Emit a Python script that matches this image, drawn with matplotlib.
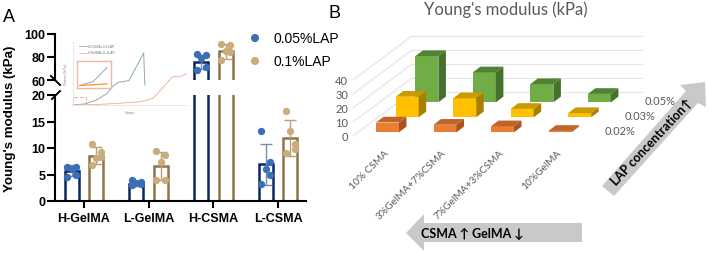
import numpy as np
import matplotlib
matplotlib.use('Agg')
import matplotlib.pyplot as plt
from matplotlib.patches import Polygon, Rectangle

W, H = 709, 255

groups = ['H-GelMA', 'L-GelMA', 'H-CSMA', 'L-CSMA']
mean_low = [5.7, 3.3, 76, 6.9]
mean_high = [8.5, 6.6, 85, 11.9]
err_low = [1.0, 0.4, 6.0, 3.9]
err_high = [1.6, 2.7, 6.5, 3.4]
pts_low = [[6.5, 6.5, 6.0, 5.0, 4.5], [4.0, 3.5, 3.4, 3.3, 3.0],
           [82.6, 81.8, 79, 71.6, 69], [13.2, 7.3, 6.0, 5.0, 3.2]]
pts_high = [[10.7, 9.2, 8.2, 8.3, 6.8], [9.5, 8.6, 7.4, 4.0, 4.0],
            [91, 90, 85, 84, 77], [17.0, 10.8, 13.2, 9.8, 9.0]]
jitter = [-0.07, 0.07, 0.0, 0.07, -0.07]

strain_csma = [0, 0.1, 0.2, 0.3, 0.35, 0.4, 0.49, 0.62, 0.63]
stress_csma = [0, 5, 22, 55, 90, 108, 116, 248, 95]
strain_gel = [0, 0.2, 0.4, 0.5, 0.6, 0.7, 0.75, 0.877, 0.936, 1.0]
stress_gel = [0, 2, 8, 12, 16, 32, 60, 136, 135, 150]

mixes = ['10% CSMA', '3%GelMA+7%CSMA', '7%GelMA+3%CSMA', '10%GelMA']
lap = ['0.02%', '0.03%', '0.05%']
modulus = [[7.0, 5.4, 4.3, 1.0],
           [14.7, 13.6, 6.0, 3.0],
           [33.0, 21.4, 13.0, 6.0]]
ticks_3d = [0, 10, 20, 30, 40]

BLUE, NAVY = '#3a6fb8', '#0c2461'
TAN, BROWN = '#c9ad7c', '#8f7447'
GRAY = '#595959'
ARROW = '#c9c9c9'
face = ['#ed7d31', '#ffc000', '#70ad47']
top = ['#c0652a', '#cc9a00', '#4f8233']
side = ['#a85520', '#a88000', '#44712b']


def px_axes(x0, y0, x1, y1, **kw):
    return fig.add_axes([x0 / W, 1 - y1 / H, (x1 - x0) / W, (y1 - y0) / H], **kw)


plt.rcParams['font.family'] = ['Liberation Sans', 'DejaVu Sans']
fig = plt.figure(figsize=(W / 100, H / 100), dpi=100)

# panel A, broken axis
ax_up = px_axes(55, 35, 306, 81)
ax_lo = px_axes(55, 96, 306, 202)

for ax in (ax_up, ax_lo):
    for i in range(4):
        for off, m, e, pts, col, dot in ((-0.19, mean_low[i], err_low[i], pts_low[i], NAVY, BLUE),
                                         (0.19, mean_high[i], err_high[i], pts_high[i], BROWN, TAN)):
            ax.bar(i + off, m, 0.215, color='white', edgecolor=col, linewidth=1.8)
            ecol = '#7d8ca8' if col == NAVY else '#b89f74'
            ax.errorbar(i + off, m, yerr=e, color=ecol, capsize=4, lw=1, capthick=1)
            ax.scatter(i + off + np.array(jitter), pts, s=28, color=dot, zorder=3, linewidths=0)
    ax.set_xlim(-0.448, 3.433)
    for s in ('top', 'right'):
        ax.spines[s].set_visible(False)
    ax.spines['left'].set_linewidth(1.5)
    ax.tick_params(axis='y', width=1.5, length=6, pad=1, labelsize=9)

ax_up.set_ylim(60, 100)
ax_up.set_yticks([60, 80, 100])
ax_up.set_yticklabels(['60', '80', '100'], fontweight='bold')
ax_up.spines['bottom'].set_visible(False)
ax_up.set_xticks([])

ax_lo.set_ylim(0, 20)
ax_lo.set_yticks([0, 5, 10, 15, 20])
ax_lo.set_yticklabels(['0', '5', '10', '15', '20'], fontweight='bold')
ax_lo.spines['bottom'].set_linewidth(1.5)
ax_lo.set_xticks(range(4))
ax_lo.set_xticklabels(groups, fontweight='bold', fontsize=9)
ax_lo.tick_params(axis='x', width=1.5, length=5, pad=3)

# overlay in pixel coordinates for the annotations
ov = fig.add_axes([0, 0, 1, 1], zorder=5)
ov.set_xlim(0, W)
ov.set_ylim(H, 0)
ov.axis('off')
ov.patch.set_alpha(0)

ov.plot([51, 60], [77, 86], color='k', lw=1.4)
ov.plot([52, 60], [100, 92], color='k', lw=1.4)
ov.text(10, 119, "Young's modulus (kPa)", rotation=90, fontsize=9.6, fontweight='bold',
        ha='center', va='center')
ov.text(3, 18, 'A', fontsize=13, va='center')
ov.text(328, 14, 'B', fontsize=13, va='center')
ov.scatter([255, 255], [39, 62], s=34, color=[BLUE, TAN], linewidths=0)
ov.text(274, 39, '0.05%LAP', fontsize=10, va='center')
ov.text(274, 62, '0.1%LAP', fontsize=10, va='center')

# stress-strain inset
ins = px_axes(73, 43, 187, 106, zorder=4)
ins.patch.set_alpha(0)
ins.plot(strain_csma, stress_csma, color='#8fa9b6', lw=0.7)
ins.plot(strain_gel, stress_gel, color='#efb59b', lw=0.7)
ins.set_xlim(0, 1)
ins.set_ylim(0, 300)
ins.set_xticks(np.arange(0, 1.01, 0.1))
ins.set_yticks([0, 100, 200, 300])
ins.set_xticklabels([])
ins.set_yticklabels([])
ins.tick_params(length=1, width=0.3, color='#cccccc')
for s in ('top', 'right'):
    ins.spines[s].set_visible(False)
for s in ('left', 'bottom'):
    ins.spines[s].set_linewidth(0.4)
    ins.spines[s].set_color('#d8d8d8')
ins.add_patch(Rectangle((0, 0), 0.117, 36, fill=False, ec='#efb7a8', lw=0.8, ls='--'))
ins.plot([0.05, 0.12], [282, 282], color='#8fa9b6', lw=0.6)
ins.plot([0.05, 0.12], [250, 250], color='#efb59b', lw=0.6)
ins.text(0.13, 282, 'H-CSMA+0.1LAP', fontsize=2.5, color='#777777', va='center')
ins.text(0.13, 250, 'H-GelMA+0.1LAP', fontsize=2.5, color='#777777', va='center')
ins.text(0.5, -32, 'Strain', fontsize=2.8, color='#888888', ha='center', va='center')
ins.text(-0.06, 150, 'Stress (kPa)', fontsize=2.8, color='#888888', rotation=90, ha='center', va='center')

mini = px_axes(77, 62, 111, 89, zorder=6)
mini.patch.set_alpha(0)
mini.plot(strain_csma[:3], stress_csma[:3], color='#8fa9b6', lw=0.7)
mini.plot(strain_gel[:2], stress_gel[:2], color='#e8a33d', lw=1.0)
mini.set_xlim(-0.02, 0.23)
mini.set_ylim(-3, 30)
mini.set_xticks([])
mini.set_yticks([])
for s in mini.spines.values():
    s.set_color('#efb7a8')
    s.set_linewidth(1.0)

# panel B, oblique 3D bars
X0, Y0 = 376, 133.3
COL_DX, ROW_DX, ROW_DY = 57.5, 19.7, 15
UNIT = 1.4
BAR_W, DEPTH_X, DEPTH_Y = 23, 7.5, 5.7
BACK_X, BACK_Y = 412, 93
FRONT_X, FRONT_Y = 353, 137


def project(col, row, val):
    return X0 + col * COL_DX + row * ROW_DX, Y0 - row * ROW_DY - val * UNIT


for v in ticks_3d:
    yb = BACK_Y - v * UNIT
    yf = FRONT_Y - v * UNIT
    ov.plot([BACK_X, 642], [yb, yb], color='#e4e4e4', lw=0.8, zorder=1)
    ov.plot([FRONT_X, BACK_X], [yf, yb], color='#e4e4e4', lw=0.8, zorder=1)
    ov.text(FRONT_X - 5, yf + 1, str(v), fontsize=8, color=GRAY, family=['Lato', 'DejaVu Sans'],
            ha='right', va='center')

for row in (2, 1, 0):
    for col in range(4):
        x, yb = project(col, row, 0)
        _, yt = project(col, row, modulus[row][col])
        ov.add_patch(Polygon([(x, yb), (x + BAR_W, yb), (x + BAR_W, yt), (x, yt)], fc=face[row], ec='none', zorder=2))
        ov.add_patch(Polygon([(x, yt), (x + BAR_W, yt), (x + BAR_W + DEPTH_X, yt - DEPTH_Y), (x + DEPTH_X, yt - DEPTH_Y)],
                             fc=top[row], ec='none', zorder=2))
        ov.add_patch(Polygon([(x + BAR_W, yb), (x + BAR_W + DEPTH_X, yb - DEPTH_Y), (x + BAR_W + DEPTH_X, yt - DEPTH_Y), (x + BAR_W, yt)],
                             fc=side[row], ec='none', zorder=2))

lato = ['Lato', 'DejaVu Sans']
ov.text(506, 10, "Young's modulus (kPa)", fontsize=12, color=GRAY, family=lato, ha='center', va='center')
for i, m in enumerate(mixes):
    ov.text(384 + i * 57.5, 149, m, fontsize=7.3, color=GRAY, family=lato, rotation=45,
            ha='right', va='top', rotation_mode='anchor')
for i, l in enumerate(lap):
    ov.text(605 + i * 20, 132 - i * 15, l, fontsize=8, color=GRAY, family=lato, va='center')

# the two grey arrows
ov.add_patch(Polygon([(406, 234), (424, 215), (424, 224), (582, 224), (582, 243), (424, 243), (424, 252)],
                     fc=ARROW, ec='none', zorder=2))
ov.text(472, 234, 'CSMA ↑ GelMA ↓', fontsize=9, fontweight='bold', family=lato, ha='center', va='center', zorder=3)
ov.add_patch(Polygon([(602, 187), (614, 197), (698, 104), (706, 108), (705, 83), (680, 86), (686, 92)],
                     fc=ARROW, ec='none', zorder=2))
ov.text(652, 142, 'LAP concentration↑', fontsize=9, fontweight='bold', family=lato, rotation=47,
        ha='center', va='center', rotation_mode='anchor', zorder=3)

fig.savefig('out.png', dpi=100)
